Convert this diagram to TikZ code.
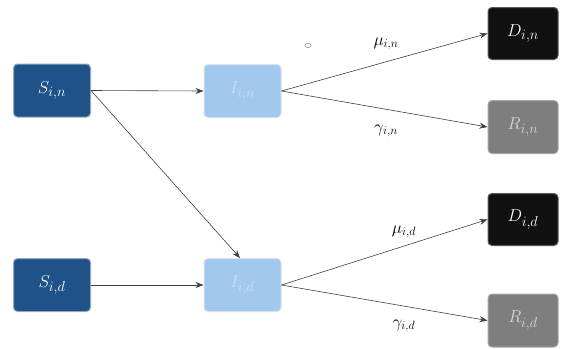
\documentclass[tikz,border=0pt]{standalone}
\usetikzlibrary{arrows.meta}
\definecolor{sblue}{HTML}{1F5289}
\definecolor{sborder}{HTML}{8FA8C4}
\definecolor{iblue}{HTML}{A3C8EE}
\definecolor{iborder}{HTML}{D3E2F4}
\definecolor{itext}{HTML}{C8DDF5}
\definecolor{dblack}{HTML}{111111}
\definecolor{dborder}{HTML}{5A5A5A}
\definecolor{rgrey}{HTML}{7E7E7E}
\definecolor{rborder}{HTML}{A8A8A8}
\definecolor{rtext}{HTML}{D8D8D8}
\begin{document}
\begin{tikzpicture}[x=1pt,y=-1pt,
  box/.style={rounded corners=4pt, minimum width=77pt, minimum height=53pt, inner sep=0pt, line width=1pt, font=\fontsize{19}{22}\selectfont},
  sbox/.style={box, fill=sblue, draw=sborder, text=white},
  ibox/.style={box, fill=iblue, draw=iborder, text=itext},
  dbox/.style={box, fill=dblack, draw=dborder, text=white, minimum width=70pt, minimum height=52pt},
  rbox/.style={box, fill=rgrey, draw=rborder, text=rtext, minimum width=70pt, minimum height=53pt},
  conn/.style={draw=black!75, line width=0.6pt, -{Stealth[length=8pt,width=6pt]}},
  lbl/.style={font=\fontsize{17}{20}\selectfont, inner sep=1pt}]
\useasboundingbox (0,0) rectangle (562,348);
\node[sbox] (Sn) at (52,90.5) {$S_{i,n}$};
\node[sbox] (Sd) at (52,285) {$S_{i,d}$};
\node[ibox] (In) at (242.5,91) {$I_{i,n}$};
\node[ibox] (Id) at (242.5,285) {$I_{i,d}$};
\node[dbox] (Dn) at (523,33.5) {$D_{i,n}$};
\node[rbox] (Rn) at (523,127) {$R_{i,n}$};
\node[dbox] (Dd) at (523,219.5) {$D_{i,d}$};
\node[rbox] (Rd) at (523,320.5) {$R_{i,d}$};
\draw[conn] (Sn.east) -- (In.west);
\draw[conn] (Sn.east) -- (Id.north -| 240,0);
\draw[conn] (Sd.east) -- (Id.west);
\draw[conn] (In.east) -- (Dn.west);
\draw[conn] (In.east) -- (Rn.west);
\draw[conn] (Id.east) -- (Dd.west);
\draw[conn] (Id.east) -- (Rd.west);
\node[lbl] (mun) at (386,44) {$\mu_{i,n}$};
\node[lbl] (gan) at (386,131) {$\gamma_{i,n}$};
\node[lbl] (mud) at (404,232) {$\mu_{i,d}$};
\node[lbl] (gad) at (404,326) {$\gamma_{i,d}$};
\draw[black!40, line width=0.6pt] (308,45.5) ellipse (3pt and 2.2pt);
\end{tikzpicture}
\end{document}
